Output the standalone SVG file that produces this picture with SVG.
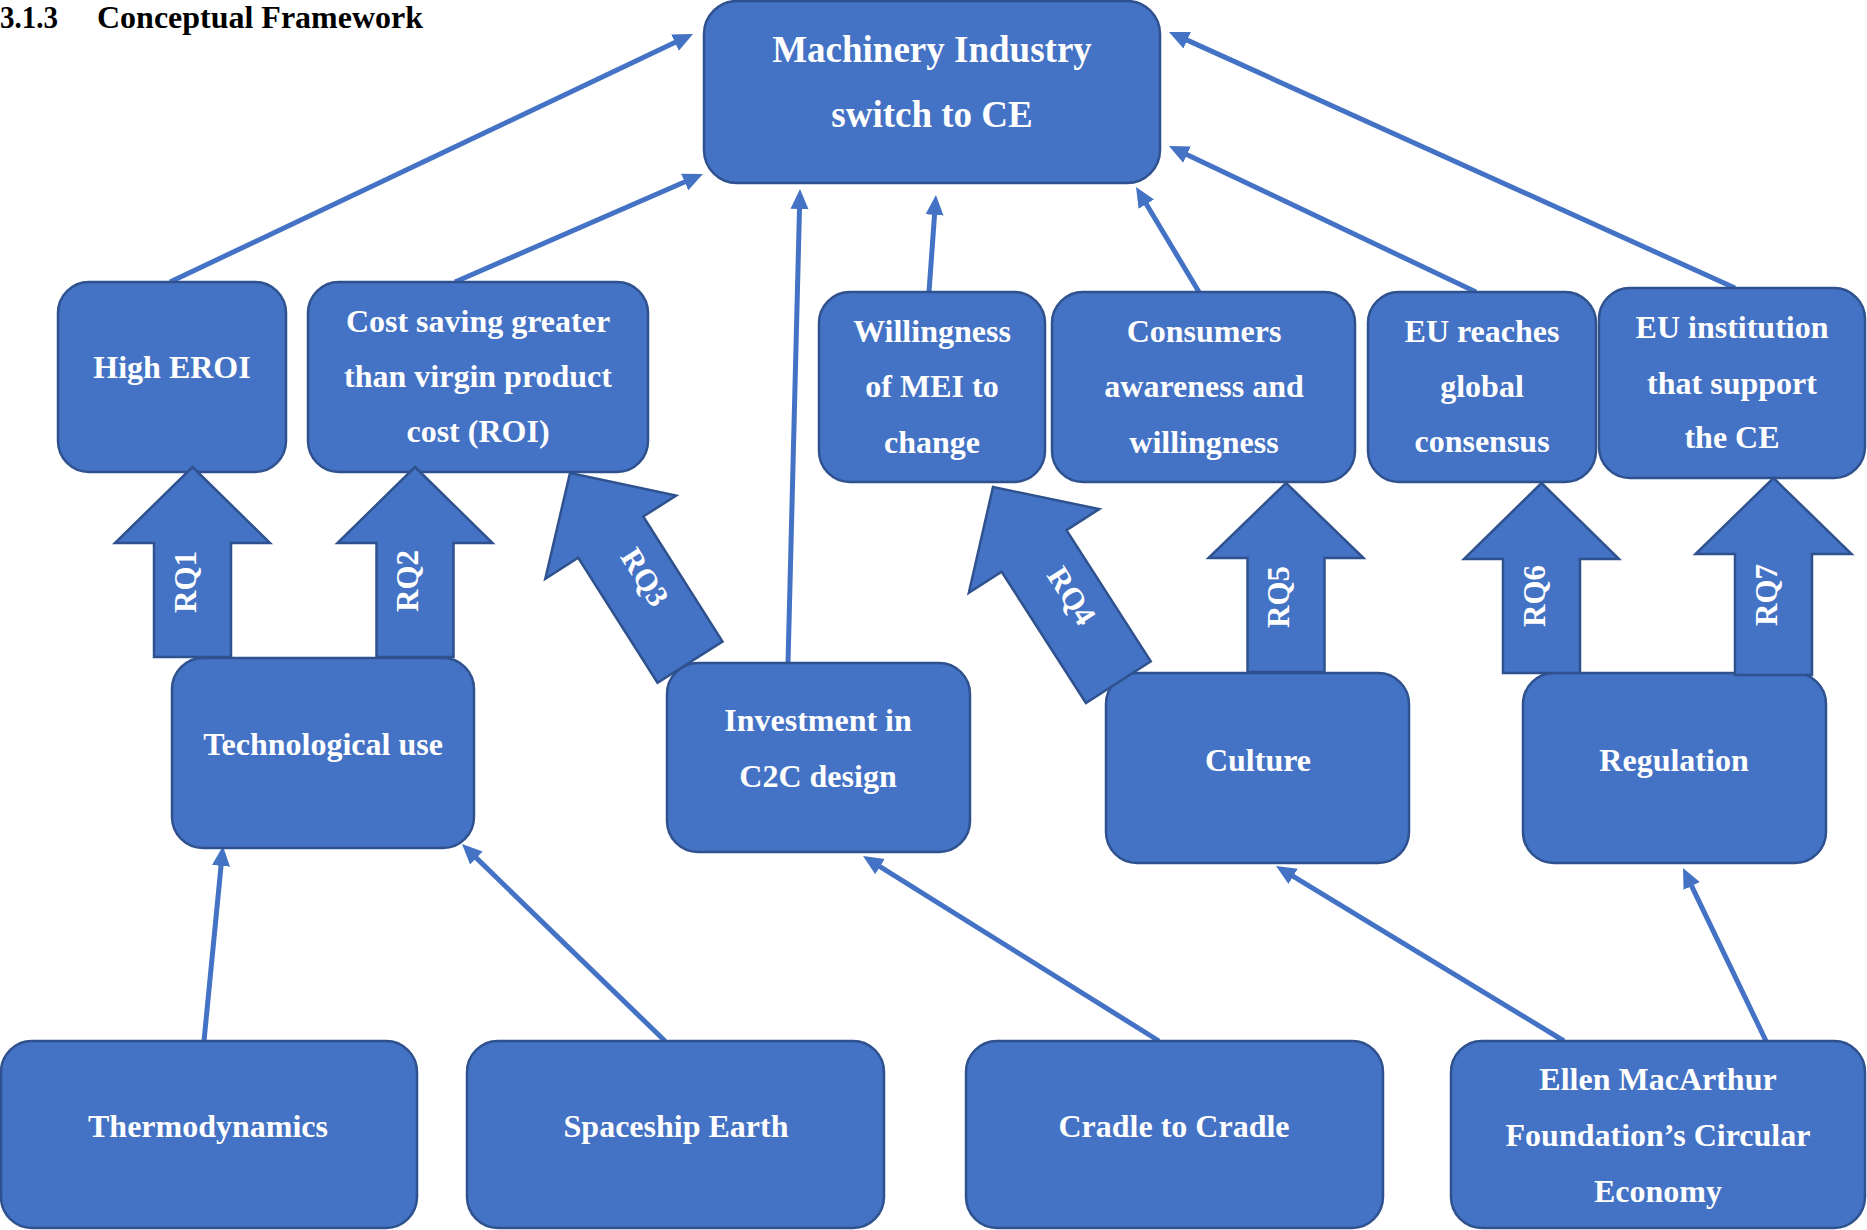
<svg xmlns="http://www.w3.org/2000/svg" width="1867" height="1230" viewBox="0 0 1867 1230">
  <style>
    .box { fill: #4472C4; stroke: #2F528F; stroke-width: 2.5; }
    .lbl { fill: #FFFFFF; font-family: "Liberation Serif", "Times New Roman", serif; font-weight: bold; font-size: 32px; text-anchor: middle; }
    .big { font-size: 37px; }
    .rq { fill: #4472C4; stroke: #2F528F; stroke-width: 2.5; stroke-linejoin: miter; }
    .rqt { fill: #FFFFFF; font-family: "Liberation Serif", "Times New Roman", serif; font-weight: bold; font-size: 31px; text-anchor: middle; }
    .link { stroke: #4472C4; stroke-width: 5; fill: none; marker-end: url(#ah); }
    .title { fill: #000000; font-family: "Liberation Serif", "Times New Roman", serif; font-weight: bold; font-size: 32px; }
  </style>
  <defs>
    <marker id="ah" markerUnits="userSpaceOnUse" markerWidth="20" markerHeight="20" viewBox="0 0 20 20" refX="8" refY="10" orient="auto">
      <path d="M0,1 L20,10 L0,19 Z" fill="#4472C4"/>
    </marker>
  </defs>

  <rect width="1867" height="1230" fill="#FFFFFF"/>

  <!-- heading -->
  <text class="title" x="0" y="28" textLength="58" lengthAdjust="spacingAndGlyphs">3.1.3</text>
  <text class="title" x="97" y="28" textLength="326" lengthAdjust="spacingAndGlyphs">Conceptual Framework</text>

  <!-- thin connectors -->
  <g id="connectors">
    <line class="link" x1="170" y1="282" x2="682.2" y2="39.1"/>
    <line class="link" x1="455" y1="282" x2="692.0" y2="178.8"/>
    <line class="link" x1="788" y1="663" x2="799.7" y2="201.0"/>
    <line class="link" x1="929" y1="292" x2="935.1" y2="207.0"/>
    <line class="link" x1="1199" y1="292" x2="1142.2" y2="197.3"/>
    <line class="link" x1="1476" y1="292" x2="1179.8" y2="151.2"/>
    <line class="link" x1="1735" y1="288" x2="1179.9" y2="36.9"/>
    <line class="link" x1="204" y1="1041" x2="221.8" y2="857.9"/>
    <line class="link" x1="665" y1="1041" x2="470.6" y2="852.4"/>
    <line class="link" x1="1159" y1="1041" x2="873.2" y2="862.4"/>
    <line class="link" x1="1564" y1="1041" x2="1286.3" y2="872.2"/>
    <line class="link" x1="1766" y1="1041" x2="1688.2" y2="878.8"/>
  </g>

  <!-- goal -->
  <g id="machinery">
    <rect class="box" x="704" y="1" width="456" height="182" rx="33" ry="33"/>
    <text class="lbl big" x="932" y="62">Machinery Industry</text>
    <text class="lbl big" x="932" y="127">switch to CE</text>
  </g>

  <!-- outcome row -->
  <g id="high-eroi">
    <rect class="box" x="58" y="282" width="228" height="190" rx="31" ry="31"/>
    <text class="lbl" x="172" y="378">High EROI</text>
  </g>
  <g id="cost-saving">
    <rect class="box" x="308" y="282" width="340" height="190" rx="31" ry="31"/>
    <text class="lbl" x="478" y="332">Cost saving greater</text>
    <text class="lbl" x="478" y="387">than virgin product</text>
    <text class="lbl" x="478" y="442">cost (ROI)</text>
  </g>
  <g id="willingness">
    <rect class="box" x="819" y="292" width="226" height="190" rx="31" ry="31"/>
    <text class="lbl" x="932" y="342">Willingness</text>
    <text class="lbl" x="932" y="397">of MEI to</text>
    <text class="lbl" x="932" y="453">change</text>
  </g>
  <g id="consumers">
    <rect class="box" x="1052" y="292" width="303" height="190" rx="31" ry="31"/>
    <text class="lbl" x="1204" y="342">Consumers</text>
    <text class="lbl" x="1204" y="397">awareness and</text>
    <text class="lbl" x="1204" y="453">willingness</text>
  </g>
  <g id="eu-consensus">
    <rect class="box" x="1368" y="292" width="228" height="190" rx="31" ry="31"/>
    <text class="lbl" x="1482" y="342">EU reaches</text>
    <text class="lbl" x="1482" y="397">global</text>
    <text class="lbl" x="1482" y="452">consensus</text>
  </g>
  <g id="eu-institution">
    <rect class="box" x="1599" y="288" width="266" height="190" rx="31" ry="31"/>
    <text class="lbl" x="1732" y="338">EU institution</text>
    <text class="lbl" x="1732" y="394">that support</text>
    <text class="lbl" x="1732" y="448">the CE</text>
  </g>

  <!-- driver row -->
  <g id="technological">
    <rect class="box" x="172" y="658" width="302" height="190" rx="31" ry="31"/>
    <text class="lbl" x="323" y="755">Technological use</text>
  </g>
  <g id="investment">
    <rect class="box" x="667" y="663" width="303" height="189" rx="31" ry="31"/>
    <text class="lbl" x="818" y="731">Investment in</text>
    <text class="lbl" x="818" y="787">C2C design</text>
  </g>
  <g id="culture">
    <rect class="box" x="1106" y="673" width="303" height="190" rx="31" ry="31"/>
    <text class="lbl" x="1258" y="771">Culture</text>
  </g>
  <g id="regulation">
    <rect class="box" x="1523" y="673" width="303" height="190" rx="31" ry="31"/>
    <text class="lbl" x="1674" y="771">Regulation</text>
  </g>

  <!-- theory row -->
  <g id="thermodynamics">
    <rect class="box" x="1" y="1041" width="416" height="187" rx="31" ry="31"/>
    <text class="lbl" x="208" y="1137">Thermodynamics</text>
  </g>
  <g id="spaceship-earth">
    <rect class="box" x="467" y="1041" width="417" height="187" rx="31" ry="31"/>
    <text class="lbl" x="676" y="1137">Spaceship Earth</text>
  </g>
  <g id="cradle-to-cradle">
    <rect class="box" x="966" y="1041" width="417" height="187" rx="31" ry="31"/>
    <text class="lbl" x="1174" y="1137">Cradle to Cradle</text>
  </g>
  <g id="ellen-macarthur">
    <rect class="box" x="1451" y="1041" width="414" height="187" rx="31" ry="31"/>
    <text class="lbl" x="1658" y="1090">Ellen MacArthur</text>
    <text class="lbl" x="1658" y="1146">Foundation’s Circular</text>
    <text class="lbl" x="1658" y="1202">Economy</text>
  </g>

  <!-- research-question block arrows (tip at local origin, pointing up) -->
  <g id="rq1" transform="translate(192.5,467)">
    <path class="rq" d="M0,0 L77.5,76 L38.5,76 L38.5,190 L-38.5,190 L-38.5,76 L-77.5,76 Z"/>
    <text class="rqt" transform="translate(3,115) rotate(-90)">RQ1</text>
  </g>
  <g id="rq2" transform="translate(415,467)">
    <path class="rq" d="M0,0 L77.5,76 L38.5,76 L38.5,190 L-38.5,190 L-38.5,76 L-77.5,76 Z"/>
    <text class="rqt" transform="translate(3,114) rotate(-90)">RQ2</text>
  </g>
  <g id="rq3" transform="translate(570,473) rotate(-32.4)">
    <path class="rq" d="M0,0 L77.5,76 L38.5,76 L38.5,224 L-38.5,224 L-38.5,76 L-77.5,76 Z"/>
    <text class="rqt" transform="translate(-3,128) rotate(90)">RQ3</text>
  </g>
  <g id="rq4" transform="translate(993,487) rotate(-32.7)">
    <path class="rq" d="M0,0 L77.5,76 L38.5,76 L38.5,232 L-38.5,232 L-38.5,76 L-77.5,76 Z"/>
    <text class="rqt" transform="translate(-3,134) rotate(90)">RQ4</text>
  </g>
  <g id="rq5" transform="translate(1286,483)">
    <path class="rq" d="M0,0 L77.5,75 L38.5,75 L38.5,189 L-38.5,189 L-38.5,75 L-77.5,75 Z"/>
    <text class="rqt" transform="translate(3,114) rotate(-90)">RQ5</text>
  </g>
  <g id="rq6" transform="translate(1541.5,483)">
    <path class="rq" d="M0,0 L77.5,76 L38.5,76 L38.5,190 L-38.5,190 L-38.5,76 L-77.5,76 Z"/>
    <text class="rqt" transform="translate(3,113) rotate(-90)">RQ6</text>
  </g>
  <g id="rq7" transform="translate(1773.5,478)">
    <path class="rq" d="M0,0 L78,76 L38.5,76 L38.5,197 L-38.5,197 L-38.5,76 L-78,76 Z"/>
    <text class="rqt" transform="translate(3,117) rotate(-90)">RQ7</text>
  </g>
</svg>
